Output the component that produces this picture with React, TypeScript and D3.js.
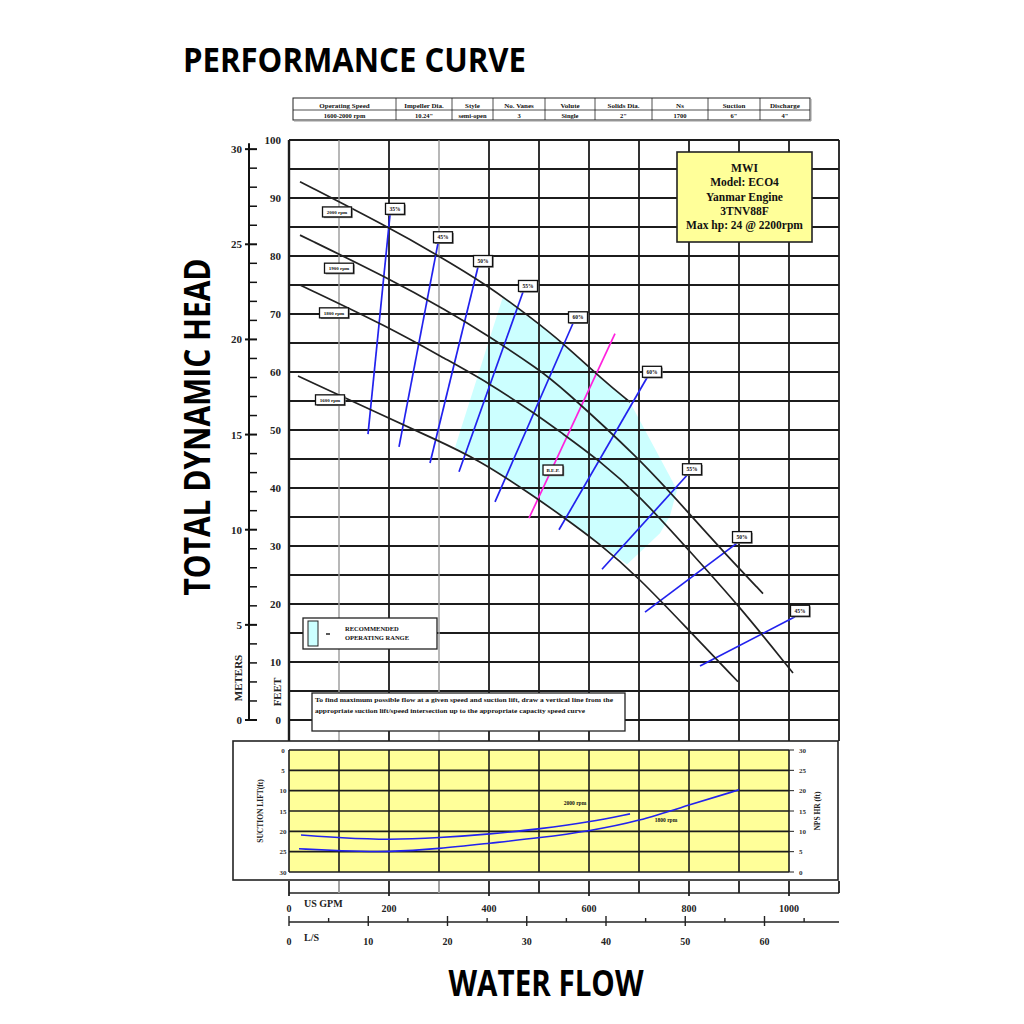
import React from "react";
import * as d3 from "d3";

// ---------- DATA ----------
const tableHeaders = ["Operating Speed", "Impeller Dia.", "Style", "No. Vanes", "Volute", "Solids Dia.", "Ns", "Suction", "Discharge"];
const tableValues = ["1600-2000 rpm", "10.24\"", "semi-open", "3", "Single", "2\"", "1700", "6\"", "4\""];
const tableColEdges = [293, 396, 452, 493, 545, 595, 652, 708, 760, 810];

const infoLines = ["MWI", "Model: ECO4", "Yanmar Engine", "3TNV88F", "Max hp: 24 @ 2200rpm"];

const feetTicks = [0, 10, 20, 30, 40, 50, 60, 70, 80, 90, 100];
const meterTicks = [0, 5, 10, 15, 20, 25, 30];
const gpmTicks = [0, 200, 400, 600, 800, 1000];
const lsTicks = [0, 10, 20, 30, 40, 50, 60];
const liftTicks = [0, 5, 10, 15, 20, 25, 30];
const npshTicks = [30, 25, 20, 15, 10, 5, 0];

// head-capacity curves [GPM, ft]
const rpm2000 = [[22, 92.8], [198, 85.0], [296, 80.2], [396, 75.0], [482, 69.5], [548, 65.0], [628, 58.6], [682, 54.8]];
const rpm1900 = [[22, 83.6], [198, 76.2], [316, 70.6], [396, 66.4], [502, 60.3], [542, 57.6], [702, 45.0], [798, 35.8], [870, 28.9], [948, 21.8]];
const rpm1800 = [[22, 75.0], [198, 67.8], [316, 62.1], [396, 58.3], [496, 52.6], [542, 49.7], [620, 44.8], [702, 38.6], [796, 29.6], [902, 19.5], [1008, 8.1]];
const rpm1600 = [[18, 59.3], [198, 52.1], [282, 48.8], [382, 44.8], [496, 38.2], [542, 35.4], [620, 30.5], [700, 24.5], [796, 15.8], [898, 6.6]];
const rpmCurves = [rpm2000, rpm1900, rpm1800, rpm1600];
const rpmLabels = ["2000 rpm", "1900 rpm", "1800 rpm", "1600 rpm"];
const rpmLabelPos = [[96, 87.6], [100, 77.9], [90, 70.2], [82, 55.2]];

// recommended operating range polygon [GPM, ft]
const operatingRange = [[332, 47.0], [428, 73.0], [482, 69.5], [548, 65.0], [628, 58.6], [682, 54.8], [776, 39.7], [762, 35.2], [742, 32.2], [676, 26.8], [620, 30.5], [542, 35.4], [496, 38.2], [382, 44.8]];

// efficiency lines: label, top [GPM, ft], bottom [GPM, ft]
const effLabels = ["35%", "45%", "50%", "55%", "60%", "60%", "55%", "50%", "45%"];
const effTop = [[202, 87.1], [298, 82.2], [378, 78.1], [468, 73.8], [568, 68.4], [716, 59.0], [796, 42.2], [896, 30.5], [1012, 17.8]];
const effBottom = [[158, 49.3], [220, 47.1], [282, 44.3], [340, 42.8], [412, 37.6], [540, 32.8], [626, 26.0], [712, 18.6], [822, 9.3]];
const bepLine = [[652, 66.6], [480, 34.8]];
const bepLabelPos = [528, 43.1];

// NPSHR / suction lift curves [GPM, suction lift ft]
const npsh2000 = [[24, 20.9], [104, 21.6], [200, 22.1], [300, 21.6], [402, 20.7], [502, 19.4], [602, 17.7], [682, 15.7]];
const npsh1800 = [[20, 24.3], [104, 24.8], [200, 25.1], [300, 24.3], [402, 22.9], [502, 21.6], [602, 19.9], [700, 17.5], [800, 13.5], [900, 9.8]];
const npshLabels = ["2000 rpm", "1800 rpm"];
const npshLabelPos = [[572, 13.0], [754, 17.2]];

const noteLines = [
  "To find maximum possible flow at a given speed and suction lift, draw a vertical line from the",
  "appropriate suction lift/speed intersection up to the appropriate capacity speed curve",
];

// ---------- COMPONENT ----------
export default function App() {
  const x = d3.scaleLinear().domain([0, 1100]).range([289, 839]);
  const y = d3.scaleLinear().domain([0, 100]).range([720, 140]);
  const ym = (m: number) => y(m * 3.2808);
  const xls = (ls: number) => x(ls * 15.85);
  const yl = d3.scaleLinear().domain([0, 30]).range([750, 872]);

  const curve = d3.line<number[]>().x((d) => x(d[0])).y((d) => y(d[1])).curve(d3.curveBasis);
  const lowCurve = d3.line<number[]>().x((d) => x(d[0])).y((d) => yl(d[1])).curve(d3.curveBasis);
  const poly = d3.line<number[]>().x((d) => x(d[0])).y((d) => y(d[1]));

  const serif = "'Liberation Serif', 'DejaVu Serif', serif";
  const sans = "'Open Sans', 'DejaVu Sans', sans-serif";
  const gridColor = "#1c1c1c";
  const grayIdx = new Set([100, 300]);

  const vGrid = d3.range(0, 1101, 100);
  const hGrid = d3.range(0, 101, 5);
  const lowV = d3.range(0, 1001, 100);
  const lowH = d3.range(0, 31, 5);

  const labelBox = (cx: number, cy: number, text: string, w: number, h: number, fs: number, key: string) => (
    <g key={key}>
      <rect x={cx - w / 2 + 1.2} y={cy - h / 2 + 1.2} width={w} height={h} fill="#777" />
      <rect x={cx - w / 2} y={cy - h / 2} width={w} height={h} fill="#fff" stroke="#111" strokeWidth={1.3} />
      <text x={cx} y={cy + fs * 0.35} fontSize={fs} fontFamily={serif} fontWeight="bold" textAnchor="middle" fill="#111">{text}</text>
    </g>
  );

  return (
    <svg width={1024} height={1024} style={{ position: "absolute", left: 0, top: 0, background: "#fff" }}>
      <rect x={0} y={0} width={1024} height={1024} fill="#fff" />
      {/* Title */}
      <text x={183} y={72} fontSize={34} fontFamily={sans} fontWeight="bold" textLength={343} lengthAdjust="spacingAndGlyphs" fill="#000">PERFORMANCE CURVE</text>

      {/* Spec table */}
      <g>
        <rect x={293} y={98} width={517} height={22} fill="#fff" stroke="#222" strokeWidth={1} />
        <line x1={293} x2={810} y1={110} y2={110} stroke="#222" strokeWidth={0.8} />
        <line x1={294} x2={811} y1={121} y2={121} stroke="#999" strokeWidth={1} />
        <line x1={811} x2={811} y1={99} y2={121} stroke="#999" strokeWidth={1} />
        {tableColEdges.slice(1, -1).map((cx, i) => (
          <line key={"tc" + i} x1={cx} x2={cx} y1={98} y2={120} stroke="#222" strokeWidth={0.8} />
        ))}
        {tableHeaders.map((h, i) => (
          <text key={"th" + i} x={(tableColEdges[i] + tableColEdges[i + 1]) / 2} y={107.5} fontSize={7} fontFamily={serif} fontWeight="bold" textAnchor="middle" fill="#111">{h}</text>
        ))}
        {tableValues.map((v, i) => (
          <text key={"tv" + i} x={(tableColEdges[i] + tableColEdges[i + 1]) / 2} y={118} fontSize={6.5} fontFamily={serif} fontWeight="bold" textAnchor="middle" fill="#111">{v}</text>
        ))}
      </g>

      {/* Operating range */}
      <path d={poly(operatingRange as any) + "Z"} fill="#ccffff" stroke="none" />

      {/* Main grid */}
      {hGrid.map((f) => (
        <line key={"h" + f} x1={x(0)} x2={x(1100)} y1={y(f)} y2={y(f)} stroke={gridColor} strokeWidth={1.8} />
      ))}
      {vGrid.map((g) => (
        <line key={"v" + g} x1={x(g)} x2={x(g)} y1={y(100)} y2={741} stroke={grayIdx.has(g) ? "#9a9a9a" : gridColor} strokeWidth={g === 0 ? 2.4 : grayIdx.has(g) ? 1.4 : 1.8} />
      ))}

      {/* Feet axis labels */}
      {feetTicks.map((f) => (
        <text key={"ft" + f} x={281} y={y(f) + 4} fontSize={11} fontFamily={serif} fontWeight="bold" textAnchor="end" fill="#222">{f}</text>
      ))}
      {/* Meter axis */}
      <line x1={249} x2={249} y1={ym(30) - 6} y2={ym(0)} stroke="#111" strokeWidth={2} />
      {d3.range(0, 31, 1).map((m) => (
        <line key={"mt" + m} x1={m % 5 === 0 ? 245 : 249} x2={257} y1={ym(m)} y2={ym(m)} stroke="#111" strokeWidth={m % 5 === 0 ? 2 : 1.5} />
      ))}
      {meterTicks.map((m) => (
        <text key={"ml" + m} x={242} y={ym(m) + 4} fontSize={11} fontFamily={serif} fontWeight="bold" textAnchor="end" fill="#222">{m}</text>
      ))}
      <text transform="translate(242,678) rotate(-90)" fontSize={11} fontFamily={serif} fontWeight="bold" textAnchor="middle" fill="#222">METERS</text>
      <text transform="translate(281,692) rotate(-90)" fontSize={11} fontFamily={serif} fontWeight="bold" textAnchor="middle" fill="#222">FEET</text>

      {/* Efficiency lines */}
      {effTop.map((t, i) => (
        <line key={"e" + i} x1={x(t[0])} y1={y(t[1])} x2={x(effBottom[i][0])} y2={y(effBottom[i][1])} stroke="#2222ee" strokeWidth={1.7} />
      ))}
      <line x1={x(bepLine[0][0])} y1={y(bepLine[0][1])} x2={x(bepLine[1][0])} y2={y(bepLine[1][1])} stroke="#ff22dd" strokeWidth={1.7} />

      {/* Head curves */}
      {rpmCurves.map((c, i) => (
        <path key={"rc" + i} d={curve(c as any) || ""} fill="none" stroke="#222" strokeWidth={1.7} />
      ))}

      {/* Labels */}
      {rpmLabels.map((l, i) => labelBox(x(rpmLabelPos[i][0]), y(rpmLabelPos[i][1]), l, 29, 10, 5, "rl" + i))}
      {effLabels.map((l, i) => labelBox(x(effTop[i][0]) + 5, y(effTop[i][1]) - 6, l, 19, 11, 5.5, "el" + i))}
      {labelBox(x(bepLabelPos[0]), y(bepLabelPos[1]), "B.E.P.", 20, 10, 5, "bep")}

      {/* Info box */}
      <rect x={677} y={152} width={135} height={90} fill="#ffff99" stroke="#222" strokeWidth={1.6} />
      {infoLines.map((l, i) => (
        <text key={"il" + i} x={744.5} y={172 + i * 14.3} fontSize={11.5} fontFamily={serif} fontWeight="bold" textAnchor="middle" fill="#111">{l}</text>
      ))}

      {/* Legend */}
      <rect x={303} y={618} width={134} height={31} fill="#fff" stroke="#222" strokeWidth={1.3} />
      <rect x={308} y={621} width={10} height={25} fill="#ccffff" stroke="#222" strokeWidth={1} />
      <line x1={326} x2={330} y1={634} y2={634} stroke="#222" strokeWidth={1.5} />
      <text x={345} y={631} fontSize={6.5} fontFamily={serif} fontWeight="bold" fill="#111">RECOMMENDED</text>
      <text x={345} y={640} fontSize={6.5} fontFamily={serif} fontWeight="bold" fill="#111">OPERATING RANGE</text>

      {/* Note */}
      <rect x={312} y={693} width={313} height={38} fill="#fff" stroke="#222" strokeWidth={1.3} />
      <text x={315} y={702} fontSize={6} fontFamily={serif} fontWeight="bold" fill="#111" textLength={298} lengthAdjust="spacingAndGlyphs">{noteLines[0]}</text>
      <text x={315} y={713} fontSize={6} fontFamily={serif} fontWeight="bold" fill="#111" textLength={270} lengthAdjust="spacingAndGlyphs">{noteLines[1]}</text>

      {/* Y axis title */}
      <text transform="translate(210,427) rotate(-90)" fontSize={35} fontFamily={sans} fontWeight="bold" textAnchor="middle" textLength={337} lengthAdjust="spacingAndGlyphs" fill="#000">TOTAL DYNAMIC HEAD</text>

      {/* Lower panel */}
      <rect x={233} y={741} width={605} height={139} fill="#fff" stroke="#222" strokeWidth={1.6} />
      <rect x={x(0)} y={yl(0)} width={x(1000) - x(0)} height={yl(30) - yl(0)} fill="#ffff99" />
      {lowH.map((h) => (
        <line key={"lh" + h} x1={x(0)} x2={x(1000)} y1={yl(h)} y2={yl(h)} stroke={gridColor} strokeWidth={1.6} />
      ))}
      {lowV.map((g) => (
        <line key={"lv" + g} x1={x(g)} x2={x(g)} y1={yl(0)} y2={yl(30)} stroke={gridColor} strokeWidth={1.6} />
      ))}
      {liftTicks.map((t) => (
        <text key={"lt" + t} x={283} y={yl(t) + 2.5} fontSize={7} fontFamily={serif} fontWeight="bold" textAnchor="middle" fill="#333">{t}</text>
      ))}
      {npshTicks.map((t, i) => (
        <g key={"np" + t}>
          <line x1={x(1000)} x2={x(1000) + 5} y1={yl(i * 5)} y2={yl(i * 5)} stroke="#222" strokeWidth={1} />
          <text x={799} y={yl(i * 5) + 2.5} fontSize={7} fontFamily={serif} fontWeight="bold" fill="#333">{t}</text>
        </g>
      ))}
      <text transform={`translate(263,${yl(15)}) rotate(-90)`} fontSize={7.5} fontFamily={serif} fontWeight="bold" textAnchor="middle" fill="#222">SUCTION LIFT(ft)</text>
      <text transform={`translate(820,${yl(15)}) rotate(-90)`} fontSize={7.5} fontFamily={serif} fontWeight="bold" textAnchor="middle" fill="#222">NPS HR (ft)</text>
      <path d={lowCurve(npsh2000 as any) || ""} fill="none" stroke="#2222ee" strokeWidth={1.6} />
      <path d={lowCurve(npsh1800 as any) || ""} fill="none" stroke="#2222ee" strokeWidth={1.6} />
      {npshLabels.map((l, i) => (
        <text key={"nl" + i} x={x(npshLabelPos[i][0])} y={yl(npshLabelPos[i][1]) + 2} fontSize={5.5} fontFamily={serif} fontWeight="bold" textAnchor="middle" fill="#111">{l}</text>
      ))}

      {/* GPM axis */}
      <line x1={x(0)} x2={x(1100)} y1={893} y2={893} stroke="#222" strokeWidth={1.6} />
      {vGrid.map((g) => (
        <line key={"gt" + g} x1={x(g)} x2={x(g)} y1={881} y2={g % 200 === 0 ? 896 : 893} stroke={grayIdx.has(g) ? "#999" : "#222"} strokeWidth={1.8} />
      ))}
      {gpmTicks.map((g) => (
        <text key={"gl" + g} x={x(g)} y={912} fontSize={10} fontFamily={serif} fontWeight="bold" textAnchor="middle" fill="#222">{g}</text>
      ))}
      <text x={304} y={907} fontSize={10} fontFamily={serif} fontWeight="bold" fill="#222">US GPM</text>

      {/* L/S axis */}
      <line x1={x(0)} x2={x(1100)} y1={922} y2={922} stroke="#222" strokeWidth={1.4} />
      {d3.range(0, 70, 5).map((l) => (
        <line key={"lst" + l} x1={xls(l)} x2={xls(l)} y1={l % 10 === 0 ? 916 : 918} y2={l % 10 === 0 ? 926 : 922} stroke="#222" strokeWidth={1.4} />
      ))}
      {lsTicks.map((l) => (
        <text key={"lsl" + l} x={xls(l)} y={945} fontSize={10} fontFamily={serif} fontWeight="bold" textAnchor="middle" fill="#222">{l}</text>
      ))}
      <text x={304} y={941} fontSize={10} fontFamily={serif} fontWeight="bold" fill="#222">L/S</text>

      {/* X axis title */}
      <text x={546} y={996} fontSize={36} fontFamily={sans} fontWeight="bold" textAnchor="middle" textLength={195} lengthAdjust="spacingAndGlyphs" fill="#000">WATER FLOW</text>
    </svg>
  );
}
